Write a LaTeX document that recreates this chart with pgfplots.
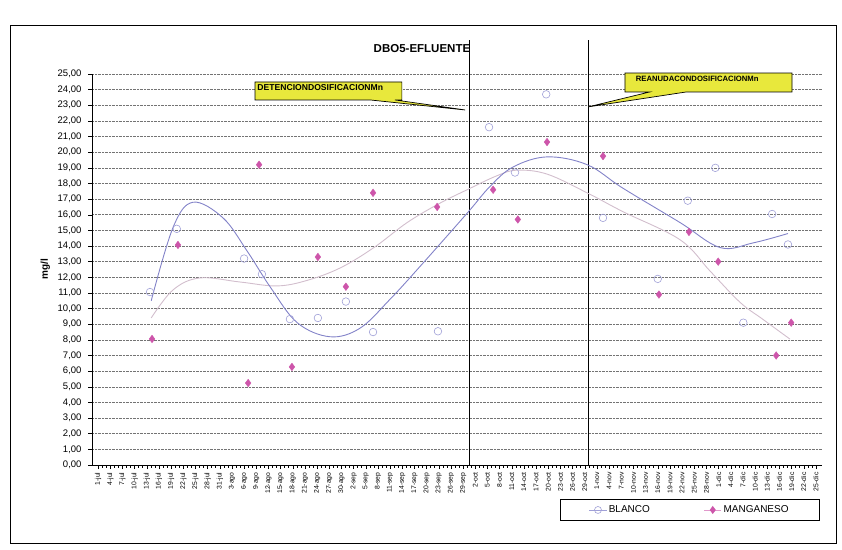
\documentclass[border=0pt]{standalone}
\usepackage{pgfplots}
\pgfplotsset{compat=1.18}
\usepackage{fontspec}
\setmainfont{Liberation Sans}
\definecolor{blanco}{RGB}{160,160,215}
\definecolor{mang}{RGB}{205,85,170}
\definecolor{trendb}{RGB}{130,130,200}
\definecolor{trendm}{RGB}{210,190,205}
\definecolor{callout}{RGB}{232,232,60}
\begin{document}
\begin{tikzpicture}
\path[use as bounding box] (0pt,0pt) rectangle (842pt,549pt);
\draw[line width=1pt] (10pt,6pt) rectangle (836pt,523pt);
\begin{axis}[
  at={(92pt,84pt)}, anchor=south west,
  scale only axis, width=730pt, height=391pt,
  xmin=-1.5, xmax=178.5, ymin=0, ymax=25,
  axis x line*=bottom, axis y line*=left,
  axis line style={black, line width=0.8pt},
  clip=false,
  ytick={0,1,...,25},
  /pgf/number format/fixed, /pgf/number format/fixed zerofill, /pgf/number format/precision=2,
  /pgf/number format/use comma, /pgf/number format/assume math mode=true,
  yticklabel style={font=\fontsize{9.5}{11}\selectfont, xshift=-3pt},
  xtick={0,3,...,177},
  xticklabels={1-jul,4-jul,7-jul,10-jul,13-jul,16-jul,19-jul,22-jul,25-jul,28-jul,31-jul,3-ago,6-ago,9-ago,12-ago,15-ago,18-ago,21-ago,24-ago,27-ago,30-ago,2-sep,5-sep,8-sep,11-sep,14-sep,17-sep,20-sep,23-sep,26-sep,29-sep,2-oct,5-oct,8-oct,11-oct,14-oct,17-oct,20-oct,23-oct,26-oct,29-oct,1-nov,4-nov,7-nov,10-nov,13-nov,16-nov,19-nov,22-nov,25-nov,28-nov,1-dic,4-dic,7-dic,10-dic,13-dic,16-dic,19-dic,22-dic,25-dic},
  xticklabel style={rotate=90, anchor=east, font=\fontsize{6.8}{7}\selectfont},
  minor x tick num=2,
  tick align=outside,
  major tick length=4pt, minor tick length=2.5pt,
  tick style={black, line width=0.5pt},
  ymajorgrids,
  major grid style={densely dotted, black!55, line width=0.6pt},
  title={DBO5-EFLUENTE},
  title style={font=\fontsize{11.5}{13}\selectfont\bfseries, at={(0.452,1)}, anchor=south, yshift=12pt},
  ylabel={mg/l},
  ylabel style={font=\fontsize{10}{12}\selectfont\bfseries, at={(axis description cs:-0.064,0.5)}, anchor=center},
  legend style={at={(axis description cs:0.819,-0.115)}, anchor=center, draw=black, line width=0.5pt,
    legend columns=2, font=\fontsize{10}{12}\selectfont, inner xsep=29pt, inner ysep=4pt,
    /tikz/every even column/.append style={column sep=52pt}},
]
% vertical separators
\addplot[black, line width=0.9pt, forget plot] coordinates {(91.5,0) (91.5,27.2)};
\addplot[black, line width=0.9pt, forget plot] coordinates {(120.8,0) (120.8,27.2)};
% trend lines
\addplot[trendm, line width=0.9pt, smooth, tension=0.6, forget plot] coordinates {
(13.1,9.4) (18.5,11.2) (25.1,11.96) (35,11.7) (44.1,11.45) (51.5,11.8) (59.7,12.6) (68,13.9) (76.2,15.5) (84,16.7) (91,17.6) (98.4,18.5) (103.3,18.85) (110.7,18.6) (120.6,17.4) (129.4,16.2) (143.5,14.4) (150.9,12.4) (158.3,10.4) (164,9.3) (170.6,8.05)};
\addplot[trendb, line width=0.9pt, smooth, tension=0.6, forget plot] coordinates {
(13.1,10.5) (18.5,15.2) (23.4,16.8) (30.8,15.8) (36.7,13.7) (42.4,11.4) (49.1,9.1) (57.2,8.2) (64.6,8.75) (72,10.6) (79.4,12.7) (91,16.1) (96.6,17.8) (102.3,19.05) (110.7,19.7) (120.6,19.2) (129.4,17.7) (143.5,15.5) (153.4,13.9) (161.5,14.2) (170.1,14.8)};
% data
\addplot[only marks, mark=o, mark size=3.8pt, color=blanco, line width=0.6pt, forget plot] coordinates {
(12.8,11.06) (19.4,15.1) (36.0,13.2) (40.4,12.2) (47.3,9.33) (54.2,9.4) (61.1,10.45) (67.8,8.5) (83.8,8.55) (96.4,21.6) (102.8,18.7) (110.5,23.7) (124.5,15.8) (138.0,11.9) (145.4,16.9) (152.2,19.0) (159.1,9.1) (166.2,16.05) (170.1,14.1)};
\addplot[only marks, mark=diamond*, mark size=3.8pt, color=mang, forget plot] coordinates {
(13.3,8.06) (19.7,14.07) (37.0,5.24) (39.7,19.2) (47.8,6.27) (54.2,13.3) (61.1,11.4) (67.8,17.4) (83.6,16.5) (97.4,17.6) (103.5,15.7) (110.7,20.65) (124.5,19.75) (138.3,10.9) (145.7,14.9) (152.9,13.0) (167.2,7.0) (170.9,9.1)};
% legend
\addlegendimage{color=blanco, mark=o, mark size=3.5pt, line width=0.6pt}
\addlegendentry{BLANCO}
\addlegendimage{color=mang!60, mark=diamond*, mark size=3.5pt, mark options={color=mang}, line width=0.6pt}
\addlegendentry{MANGANESO}
% callouts
\draw[black, line width=0.7pt, fill=callout] (axis cs:38.7,24.49) -- (axis cs:74.9,24.49) -- (axis cs:74.9,23.34) -- (axis cs:73.2,23.34) -- (axis cs:90.5,22.7) -- (axis cs:67.1,23.34) -- (axis cs:38.7,23.34) -- cycle;
\node[anchor=north west, inner sep=1pt, font=\fontsize{8.6}{9}\selectfont\bfseries] at (axis cs:39.0,24.4) {DETENCIONDOSIFICACIONMn};
\draw[black, line width=0.7pt, fill=callout] (axis cs:129.9,25.06) -- (axis cs:171.1,25.06) -- (axis cs:171.1,23.85) -- (axis cs:145,23.85) -- (axis cs:120.9,22.9) -- (axis cs:136,23.85) -- (axis cs:129.9,23.85) -- cycle;
\node[anchor=north west, inner sep=1pt, font=\fontsize{7.7}{8}\selectfont\bfseries] at (axis cs:132.3,24.95) {REANUDACONDOSIFICACIONMn};
\end{axis}
\end{tikzpicture}
\end{document}
